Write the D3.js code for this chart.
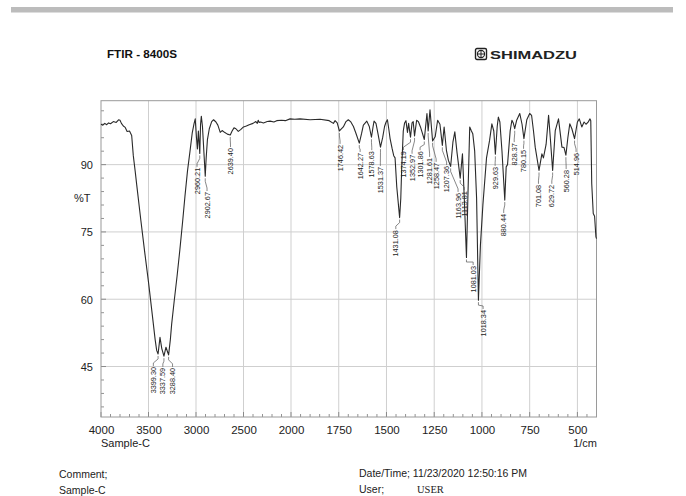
<!DOCTYPE html>
<html><head><meta charset="utf-8">
<script src="https://cdn.jsdelivr.net/npm/d3@7"></script>
<style>
body{margin:0;background:#fff;}
svg{display:block;font-family:"Liberation Sans",Arial,sans-serif;}
</style>
</head><body>
<svg id="c" width="686" height="496"></svg>
<script>
// ---- data ----
const wavenumbers = [4000,3980,3960,3940,3920,3900,3870,3840,3815,3800,3785,3765,3745,3725,3700,3677,3660,3640,3624,3580,3540,3500,3460,3430,3414,3399.3,3390,3379,3360,3337.59,3325,3316,3300,3288.4,3270,3256,3230,3200,3170,3140,3116,3090,3063,3040,3020,3008,2995,2985,2975,2960.21,2952,2944,2932,2920,2902.67,2893,2880,2860,2835,2815,2790,2770,2745,2725,2700,2670,2639.4,2620,2600,2580,2555,2530,2500,2470,2440,2400,2370,2355,2345,2335,2320,2290,2250,2220,2180,2150,2100,2060,2010,1980,1953,1900,1848,1800,1778,1769,1758,1746.42,1735,1726,1712,1700,1688,1673,1660,1642.27,1630,1621,1603,1590,1578.63,1570,1565,1555,1545,1531.37,1520,1510,1502,1495,1488,1481,1470,1462,1455,1446,1431.08,1425,1420,1412,1405,1398,1390,1384,1374.19,1366,1360,1352.97,1342,1333,1322,1301.86,1293,1288,1281.61,1272,1258.47,1245,1232,1220,1207.36,1198,1186,1176,1163.96,1152,1142,1130,1113.81,1102,1092,1081.03,1074,1064,1055,1048,1038,1028,1018.34,1008,995,976,960,948,938,929.63,920,914,906,895,880.44,873,866,852,843,836,828.37,818,802,790,780.15,765,750,740,730,721,701.08,686,678,664,651,642,629.72,616,599,581,570,560.28,550,540,529,514.96,500,490,477,465,455,445,434,430,425,417,410,403,400];
const transmittance = [99.0,98.8,99.2,98.9,99.3,99.1,99.6,99.4,100.0,99.9,99.2,98.6,98.3,97.4,97.5,96.5,92.0,88.5,85.5,77.5,70.5,63.8,56.5,51.0,48.6,47.8,49.5,51.5,49.0,47.3,48.5,49.3,48.3,47.6,51.0,54.5,59.5,65.0,71.0,77.5,83.0,88.5,93.0,97.0,99.2,100.2,96.0,93.5,97.5,92.5,99.0,100.8,98.5,94.0,87.4,91.5,95.5,98.0,99.6,100.0,99.5,98.8,97.2,97.6,97.2,96.8,96.6,97.5,98.2,98.0,97.4,97.8,98.4,98.6,98.9,99.2,99.6,99.2,99.9,99.4,99.5,99.3,99.6,99.7,99.5,99.8,99.9,99.8,100.2,100.1,100.2,100.0,100.1,99.8,99.2,99.8,99.3,97.5,98.0,98.4,99.6,100.0,99.6,98.5,97.0,94.8,97.0,98.8,99.7,98.5,96.1,98.5,99.7,99.2,97.0,93.9,96.0,98.5,99.5,100.0,98.0,95.8,93.5,92.0,91.5,85.0,78.2,82.5,89.5,97.5,99.3,99.8,97.2,99.2,96.1,99.3,99.6,96.4,99.9,99.6,98.4,95.6,99.3,101.4,97.5,102.2,95.3,96.2,99.9,99.0,94.3,98.4,93.2,91.0,89.6,95.0,97.3,92.5,87.0,92.4,82.0,69.3,82.0,98.4,97.5,96.9,93.0,82.5,59.8,72.0,81.0,91.5,95.4,99.1,97.5,92.3,98.5,100.6,99.5,93.0,82.1,89.5,90.0,97.6,99.9,99.3,98.0,99.9,101.4,99.0,95.8,100.0,101.4,101.0,97.5,93.9,88.7,92.4,91.5,94.5,101.0,96.0,88.7,97.6,100.2,93.9,93.8,92.1,96.0,99.1,98.0,95.8,99.5,100.2,98.4,99.5,99.0,99.4,100.2,99.8,85.8,79.1,78.5,73.9,73.5];

const peakWavenumbers = [3399.30,3337.59,3288.40,2960.21,2902.67,2639.40,1746.42,1642.27,1578.63,1531.37,1431.08,1374.19,1352.97,1301.86,1281.61,1258.47,1207.36,1163.96,1113.81,1081.03,1018.34,929.63,880.44,828.37,780.15,701.08,629.72,560.28,514.96];
const peakTransmittance = [47.8,47.3,47.6,92.5,87.4,96.6,97.5,94.8,96.1,93.9,78.2,96.1,96.4,95.6,97.5,95.3,94.3,89.6,87.0,69.3,59.8,92.3,82.1,98.0,95.8,88.7,88.7,92.1,95.8];
// label anchor (top of the vertical label) in data units
const peakLabelWn = [3449,3349,3247,2989,2884,2637,1743,1638,1577,1532,1451,1411,1366,1324,1274,1240,1185,1125,1093,1046,994,931,886,831,782,704,634,559,507];
const peakLabelT  = [44.9,44.7,44.7,89.3,83.9,93.7,94.4,92.6,93.0,89.5,75.4,93.0,92.2,93.0,91.5,90.4,89.7,83.7,84.1,67.4,57.6,89.5,79.0,94.8,93.3,85.5,85.5,88.8,92.6];

const xTickValues = [4000,3500,3000,2500,2000,1750,1500,1250,1000,750,500];
const yTickValues = [90,75,60,45];
const xDomain = [4000,2000,400];
const yDomain = [33.75,104.25];

const titleText = "FTIR - 8400S";
const brandText = "SHIMADZU";
const sampleName = "Sample-C";
const xUnit = "1/cm";
const yUnit = "%T";
const commentLabel = "Comment;";
const dateText = "Date/Time; 11/23/2020 12:50:16 PM";
const userLabel = "User;";
const userName = "USER";

// ---- drawing ----
const svg = d3.select("#c");
const L = 101, R = 596.5, T = 100.7, B = 417;
const x = d3.scaleLinear().domain(xDomain).range([L, 291, R]);
const y = d3.scaleLinear().domain(yDomain).range([B, T]);

// top grey bar
svg.append("rect").attr("x",11).attr("y",7).attr("width",662).attr("height",5.5).attr("fill","#bcbcbc");

// title
svg.append("text").attr("x",107).attr("y",57.5).attr("font-size",10).attr("font-weight","bold")
  .attr("textLength",70).attr("lengthAdjust","spacingAndGlyphs").attr("fill","#111").text(titleText);

// logo
const lg = svg.append("g").attr("transform","translate(475.5,48.5)");
lg.append("rect").attr("width",11).attr("height",11).attr("rx",1.5).attr("fill","none").attr("stroke","#222").attr("stroke-width",1.4);
lg.append("circle").attr("cx",5.5).attr("cy",5.5).attr("r",3.6).attr("fill","none").attr("stroke","#222").attr("stroke-width",1.1);
lg.append("line").attr("x1",1.9).attr("x2",9.1).attr("y1",5.5).attr("y2",5.5).attr("stroke","#222").attr("stroke-width",1);
lg.append("line").attr("y1",1.9).attr("y2",9.1).attr("x1",5.5).attr("x2",5.5).attr("stroke","#222").attr("stroke-width",1);
svg.append("text").attr("x",490).attr("y",58.5).attr("font-size",11).attr("font-weight","bold")
  .attr("textLength",87).attr("lengthAdjust","spacingAndGlyphs").attr("fill","#222").text(brandText);

// grid
const grid = svg.append("g");
grid.selectAll("line.vx").data(xTickValues.filter(v=>v!==4000)).join("line")
  .attr("x1",d=>x(d)).attr("x2",d=>x(d)).attr("y1",T).attr("y2",B)
  .attr("stroke","#cfcfcf").attr("stroke-width",1);
grid.selectAll("line.hy").data(yTickValues).join("line").attr("class","hy")
  .attr("x1",L).attr("x2",R).attr("y1",d=>y(d)).attr("y2",d=>y(d))
  .attr("stroke","#cfcfcf").attr("stroke-width",1);

// minor ticks
const xMinor = d3.range(4000,2000,-100).concat(d3.range(2000,399,-50));
svg.append("g").selectAll("line").data(xMinor).join("line")
  .attr("x1",d=>x(d)).attr("x2",d=>x(d)).attr("y1",B).attr("y2",d=>xTickValues.includes(d)?B-5:B-3)
  .attr("stroke","#777").attr("stroke-width",0.8);
const yMinor = d3.range(36,104,3);
svg.append("g").selectAll("line").data(yMinor).join("line")
  .attr("y1",d=>y(d)).attr("y2",d=>y(d)).attr("x1",L).attr("x2",d=>yTickValues.includes(d)?L+5:L+3)
  .attr("stroke","#777").attr("stroke-width",0.8);

// frame
svg.append("rect").attr("x",L).attr("y",T).attr("width",R-L).attr("height",B-T)
  .attr("fill","none").attr("stroke","#9a9a9a").attr("stroke-width",1);

// x axis labels via d3 axis (ticks only text)
const xAxis = d3.axisBottom(x).tickValues(xTickValues).tickSize(0).tickPadding(0).tickFormat(d3.format("d"));
const gx = svg.append("g").attr("transform",`translate(0,${B})`).call(xAxis);
gx.select(".domain").remove();
gx.selectAll("text").attr("y",17).attr("dy",0).attr("font-size",11.5).attr("font-family","'Liberation Sans',Arial,sans-serif").attr("fill","#222");

const yAxis = d3.axisLeft(y).tickValues(yTickValues).tickSize(0).tickPadding(0);
const gy = svg.append("g").attr("transform",`translate(${L},0)`).call(yAxis);
gy.select(".domain").remove();
gy.selectAll("text").attr("x",-8).attr("dy","0.35em").attr("font-size",11).attr("font-family","'Liberation Sans',Arial,sans-serif").attr("fill","#222");

svg.append("text").attr("x",74).attr("y",202).attr("font-size",11).attr("fill","#222").text(yUnit);
svg.append("text").attr("x",101).attr("y",447).attr("font-size",11).attr("fill","#222").text(sampleName);
svg.append("text").attr("x",597).attr("y",447).attr("text-anchor","end").attr("font-size",11).attr("fill","#222").text(xUnit);

// spectrum
const pts = wavenumbers.map((w,i)=>[w,transmittance[i]]);
const line = d3.line().x(d=>x(d[0])).y(d=>y(d[1]));
svg.append("path").datum(pts).attr("d",line).attr("fill","none").attr("stroke","#2a2a2a").attr("stroke-width",1.1).attr("stroke-linejoin","round");

// peak labels
const peaks = peakWavenumbers.map((w,i)=>({w,t:peakTransmittance[i],lw:peakLabelWn[i],lt:peakLabelT[i]}));
const pg = svg.append("g");
pg.selectAll("polyline").data(peaks).join("polyline")
  .attr("points",d=>{
    const dx=x(d.w), dy=y(d.t)+2, lx=x(d.lw), ly=y(d.lt);
    return [[dx,dy],[dx,Math.min(dy+3,ly-4)],[lx,ly-4],[lx,ly-1]].map(p=>p.join(",")).join(" ");
  })
  .attr("fill","none").attr("stroke","#555").attr("stroke-width",0.7);
pg.selectAll("text").data(peaks).join("text")
  .attr("transform",d=>`translate(${x(d.lw)+2.5},${y(d.lt)}) rotate(-90)`)
  .attr("text-anchor","end").attr("font-size",7.3).attr("fill","#222")
  .text(d=>d3.format(".2f")(d.w));

// footer
svg.append("text").attr("x",59).attr("y",478).attr("font-size",10.5).attr("fill","#222").text(commentLabel);
svg.append("text").attr("x",59).attr("y",494).attr("font-size",10.5).attr("fill","#222").text(sampleName);
svg.append("text").attr("x",359).attr("y",477).attr("font-size",10.5).attr("fill","#222").text(dateText);
svg.append("text").attr("x",359).attr("y",493).attr("font-size",10.5).attr("fill","#222").text(userLabel);
svg.append("text").attr("x",417).attr("y",493).attr("font-size",10.5).attr("font-family","'Liberation Serif',serif").attr("fill","#222").text(userName);
</script>
</body></html>
